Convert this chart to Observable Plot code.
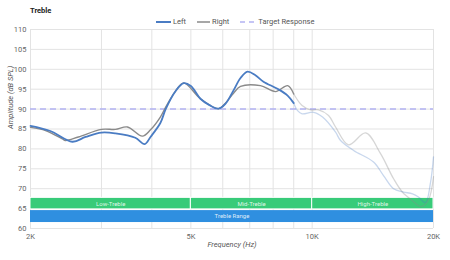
<!DOCTYPE html>
<html><head><meta charset="utf-8">
<script src="https://cdn.jsdelivr.net/npm/d3@7"></script>
<script src="https://cdn.jsdelivr.net/npm/@observablehq/plot@0.6"></script>
<style>
body{margin:0;background:#fff;font-family:Roboto,"Open Sans",sans-serif;}
#wrap{width:450px;height:260px;position:relative;overflow:hidden;}
#head{height:25px;position:relative;}
#title{position:absolute;left:30px;top:6px;font-size:7.5px;font-weight:bold;color:#222;}
#legend{position:absolute;left:156px;top:17px;display:flex;align-items:center;font-size:7.5px;color:#555;white-space:nowrap;}
#legend .it{display:flex;align-items:center;margin-right:11px;}
#legend svg{margin-right:2px;}
</style></head><body>
<div id="wrap">
<div id="head">
<div id="title">Treble</div>
<div id="legend"></div>
</div>
<div id="chart"></div>
</div>
<script>
// ---- data ----
const leftFreq = [2000, 2240, 2540, 2740, 3000, 3250, 3640, 3840, 3970, 4200, 4330, 4580, 4800, 5000, 5280, 5560, 5860, 6090, 6380, 6640, 6910, 7230, 7570, 8200, 8690, 9000, 9200, 9440, 10080, 10610, 11430, 11760, 12670, 14200, 15030, 15920, 16800, 17740, 18360, 19100, 19660, 20000];
const leftSPL = [85.8, 84.5, 81.8, 83.0, 84.1, 83.9, 82.8, 81.2, 83.0, 86.5, 90.0, 94.5, 96.5, 95.8, 92.6, 91.0, 90.1, 91.3, 94.7, 97.8, 99.4, 98.5, 96.9, 95.1, 93.4, 91.5, 89.6, 88.8, 89.2, 88.0, 84.2, 82.1, 79.6, 76.7, 73.3, 70.0, 69.2, 68.7, 67.9, 66.5, 71.5, 78.0];
const rightFreq = [2000, 2180, 2400, 2440, 2630, 3000, 3250, 3480, 3790, 3970, 4200, 4330, 4580, 4800, 5280, 5860, 6090, 6380, 6640, 7440, 8110, 8690, 9000, 9440, 9910, 10370, 10980, 11430, 12310, 13570, 14780, 15920, 16760, 17740, 18600, 19400, 20000];
const rightSPL = [85.4, 84.6, 82.5, 82.1, 83.0, 84.9, 84.9, 85.5, 83.2, 84.8, 88.0, 90.5, 94.5, 96.6, 92.6, 90.1, 91.5, 94.0, 95.7, 95.9, 94.4, 95.9, 93.8, 90.9, 89.8, 89.8, 88.4, 85.5, 81.0, 84.0, 78.8, 72.5, 69.1, 67.0, 65.5, 67.0, 73.0];
const measuredLimit = 9000;      // measurement fades beyond this frequency
const targetSPL = 90;
const bandNames = ["Low-Treble", "Mid-Treble", "High-Treble"];
const bandStart = [2000, 5000, 10000];
const bandEnd = [5000, 10000, 20000];
const rangeName = "Treble Range";
const rangeStart = 2000, rangeEnd = 20000;
const xTicks = [2000, 5000, 10000, 20000];
const xGrid = [2000, 3000, 4000, 5000, 6000, 7000, 8000, 9000, 10000, 20000];
const yTicks = [60, 65, 70, 75, 80, 85, 90, 95, 100, 105, 110];
const seriesNames = ["Left", "Right", "Target Response"];

// ---- build ----
const left = leftFreq.map((f, i) => ({f, db: leftSPL[i]}));
const right = rightFreq.map((f, i) => ({f, db: rightSPL[i]}));
const solid = a => a.filter(d => d.f <= measuredLimit);
const faint = a => a.filter(d => d.f >= measuredLimit);
const bands = bandNames.map((n, i) => ({n, a: bandStart[i], b: bandEnd[i], c: Math.sqrt(bandStart[i] * bandEnd[i])}));
const range = [{n: rangeName, a: rangeStart, b: rangeEnd, c: Math.sqrt(rangeStart * rangeEnd)}];

const BLUE = "#4a7cc3", GRAY = "#8a8a8a", TARGET = "#b3b3f2";
const GREEN = "#38cb79", RANGE = "#2f8fe0";

const chart = Plot.plot({
  width: 450, height: 235,
  marginTop: 4, marginLeft: 30, marginRight: 17, marginBottom: 32,
  style: {fontFamily: "Roboto, 'Open Sans', sans-serif", fontSize: "7.5px", color: "#666", background: "#fff"},
  x: {type: "log", domain: [2000, 20000], ticks: xTicks, tickFormat: d => d / 1000 + "K", tickSize: 0, tickPadding: 5, label: null},
  y: {domain: [60, 110], ticks: yTicks, tickSize: 0, tickPadding: 4, label: null},
  marks: [
    Plot.ruleX(xGrid, {stroke: "#e3e3e3", strokeWidth: 1}),
    Plot.ruleY(yTicks, {stroke: "#e3e3e3", strokeWidth: 1}),
    Plot.rect(bands, {x1: "a", x2: "b", y1: 64.8, y2: 67.7, fill: GREEN, stroke: "#fff", strokeWidth: 1}),
    Plot.rect(range, {x1: "a", x2: "b", y1: 61.5, y2: 64.5, fill: RANGE}),
    Plot.text(bands, {x: "c", y: 66.25, text: "n", fill: "#fff", fillOpacity: 0.85, fontSize: 6}),
    Plot.text(range, {x: "c", y: 63, text: "n", fill: "#fff", fillOpacity: 0.85, fontSize: 6}),
    Plot.ruleY([targetSPL], {stroke: TARGET, strokeWidth: 1.5, strokeDasharray: "6,4"}),
    Plot.line(faint(right), {x: "f", y: "db", stroke: GRAY, strokeOpacity: 0.35, strokeWidth: 1.3, curve: "catmull-rom"}),
    Plot.line(faint(left), {x: "f", y: "db", stroke: BLUE, strokeOpacity: 0.3, strokeWidth: 1.3, curve: "catmull-rom"}),
    Plot.line(solid(right), {x: "f", y: "db", stroke: GRAY, strokeWidth: 1.4, curve: "catmull-rom"}),
    Plot.line(solid(left), {x: "f", y: "db", stroke: BLUE, strokeWidth: 1.8, curve: "catmull-rom"}),
    Plot.text(["Frequency (Hz)"], {frameAnchor: "bottom", dy: 18, fontStyle: "italic", fill: "#555", fontSize: 7.5}),
    Plot.text(["Amplitude (dB SPL)"], {frameAnchor: "left", dx: -20, rotate: -90, fontStyle: "italic", fill: "#555", fontSize: 7.5})
  ]
});
document.getElementById("chart").appendChild(chart);

// legend
const sw = [
  `<svg width="15" height="4"><line x1="0" y1="2" x2="15" y2="2" stroke="${BLUE}" stroke-width="2"/></svg>`,
  `<svg width="13" height="4"><line x1="0" y1="2" x2="13" y2="2" stroke="${GRAY}" stroke-width="1.5"/></svg>`,
  `<svg width="16" height="4"><line x1="0" y1="2" x2="16" y2="2" stroke="${TARGET}" stroke-width="1.5" stroke-dasharray="5,4"/></svg>`
];
document.getElementById("legend").innerHTML = seriesNames.map((n, i) => `<span class="it">${sw[i]}<span>${n}</span></span>`).join("");
</script>
</body></html>
